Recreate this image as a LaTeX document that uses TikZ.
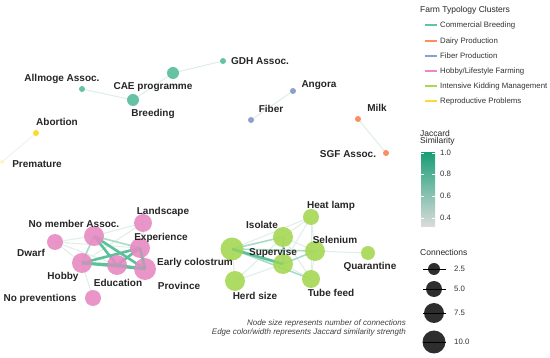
\documentclass[tikz,border=0pt]{standalone}
\usepackage{fontspec}
\setmainfont{Liberation Sans}
\usetikzlibrary{positioning}
\definecolor{cb}{HTML}{66C2A5}
\definecolor{dp}{HTML}{FC8D62}
\definecolor{fp}{HTML}{8DA0CB}
\definecolor{hf}{HTML}{E78AC3}
\definecolor{ik}{HTML}{A6D854}
\definecolor{rp}{HTML}{FFD92F}
\definecolor{jhi}{HTML}{1B9E77}
\definecolor{jlo}{HTML}{DCDCDC}
\definecolor{edgelt}{HTML}{DFEEE7}
\definecolor{edgemd}{HTML}{A8DCC6}
\definecolor{edgehi}{HTML}{5CC19A}
\tikzset{
  x=1pt,y=-1pt,
  vtx/.style={circle,inner sep=0pt,minimum size=#1,draw=none},
  lbl/.style={font=\fontsize{10}{11}\selectfont\bfseries,text=black!85,inner sep=0pt},
  elt/.style={draw=edgelt,line width=1pt},
  emd/.style={draw=edgemd,line width=1.6pt},
  ehi/.style={draw=edgehi,line width=2.6pt},
  legtxt/.style={font=\fontsize{7.8}{9}\selectfont,text=black!80,inner sep=0pt,anchor=west},
  legttl/.style={font=\fontsize{8.5}{9.5}\selectfont,text=black!85,inner sep=0pt,anchor=west,align=left},
  notetxt/.style={font=\fontsize{8}{9}\selectfont\itshape,text=black!75,inner sep=0pt,anchor=east},
}
\begin{document}
\begin{tikzpicture}
\useasboundingbox (0,0) rectangle (550,358);
\fill[white] (0,0) rectangle (550,358);
% ---------- positions ----------
\coordinate (GDHc) at (223,61);
\coordinate (CAEc) at (173,73);
\coordinate (ALLc) at (82,89);
\coordinate (BREc) at (133,100);
\coordinate (ANGc) at (293,91);
\coordinate (FIBc) at (251,120);
\coordinate (MILc) at (358,119);
\coordinate (SGFc) at (386,153);
\coordinate (ABOc) at (36,133);
\coordinate (PREc) at (2,162);
% pink
\coordinate (LANc) at (143,223);
\coordinate (NMAc) at (94,236);
\coordinate (EXPc) at (140,248);
\coordinate (DWAc) at (55,242);
\coordinate (HOBc) at (82,263);
\coordinate (EDUc) at (117,265);
\coordinate (PROc) at (145,269);
\coordinate (NOPc) at (93,298);
% green
\coordinate (HEAc) at (311,217);
\coordinate (ISOc) at (283,237);
\coordinate (SELc) at (315,251);
\coordinate (ECOc) at (232,249);
\coordinate (SUPc) at (283,264);
\coordinate (QUAc) at (368,253);
\coordinate (HERc) at (235,281);
\coordinate (TUBc) at (311,279);

% ---------- edges ----------
\draw[elt] (GDHc) -- (CAEc);
\draw[elt] (CAEc) -- (BREc);
\draw[elt] (ALLc) -- (BREc);
\draw[elt] (ANGc) -- (FIBc);
\draw[elt] (MILc) -- (SGFc);
\draw[elt,draw=edgelt!60] (ABOc) -- (PREc);
% pink edges
\draw[elt] (DWAc) -- (NMAc);
\draw[elt] (DWAc) -- (HOBc);
\draw[elt] (DWAc) -- (EDUc);
\draw[elt] (DWAc) -- (EXPc);
\draw[elt] (LANc) -- (NMAc);
\draw[elt] (LANc) -- (EXPc);
\draw[elt] (LANc) -- (PROc);
\draw[elt] (LANc) -- (HOBc);
\draw[elt] (NOPc) -- (HOBc);
\draw[emd] (NMAc) -- (HOBc);
\draw[emd] (NMAc) -- (EXPc);
\draw[ehi] (NMAc) -- (EDUc);
\draw[ehi] (NMAc) -- (PROc);
\draw[ehi] (HOBc) -- (EDUc);
\draw[ehi] (HOBc) -- (EXPc);
\draw[ehi] (HOBc) -- (PROc);
\draw[ehi] (EDUc) -- (EXPc);
\draw[ehi] (EDUc) -- (PROc);
\draw[ehi] (EXPc) -- (PROc);
% green edges
\draw[elt] (ECOc) -- (HERc);
\draw[elt] (ECOc) -- (HEAc);
\draw[elt] (HERc) -- (SUPc);
\draw[elt] (HERc) -- (ISOc);
\draw[elt] (ISOc) -- (HEAc);
\draw[elt] (SUPc) -- (HEAc);
\draw[elt] (SELc) -- (HEAc);
\draw[elt] (SELc) -- (QUAc);
\draw[elt] (TUBc) -- (HEAc);
\draw[elt] (TUBc) -- (ISOc);
\draw[emd] (ECOc) -- (ISOc);
\draw[emd] (ECOc) -- (SELc);
\draw[emd] (ECOc) -- (TUBc);
\draw[elt] (ISOc) -- (SELc);
\draw[emd] (SUPc) -- (SELc);
\draw[elt] (SUPc) -- (TUBc);
\draw[elt] (SELc) -- (TUBc);
\draw[emd] (ISOc) -- (SUPc);
\draw[ehi] (ECOc) -- (SUPc);

% ---------- vertex discs ----------
\node[vtx=6pt,fill=cb]  (GDH) at (GDHc) {};
\node[vtx=12pt,fill=cb] (CAE) at (CAEc) {};
\node[vtx=6pt,fill=cb]  (ALL) at (ALLc) {};
\node[vtx=12pt,fill=cb] (BRE) at (BREc) {};
\node[vtx=6pt,fill=fp]  (ANG) at (ANGc) {};
\node[vtx=6pt,fill=fp]  (FIB) at (FIBc) {};
\node[vtx=6pt,fill=dp]  (MIL) at (MILc) {};
\node[vtx=6pt,fill=dp]  (SGF) at (SGFc) {};
\node[vtx=6pt,fill=rp]  (ABO) at (ABOc) {};
\node[vtx=4pt,fill=rp!30] (PRE) at (PREc) {};
\begin{scope}[opacity=0.9]
\node[vtx=18pt,fill=hf] (LAN) at (LANc) {};
\node[vtx=20pt,fill=hf] (NMA) at (NMAc) {};
\node[vtx=16pt,fill=hf] (DWA) at (DWAc) {};
\node[vtx=20pt,fill=hf] (EXP) at (EXPc) {};
\node[vtx=20pt,fill=hf] (HOB) at (HOBc) {};
\node[vtx=20pt,fill=hf] (EDU) at (EDUc) {};
\node[vtx=22pt,fill=hf] (PRO) at (PROc) {};
\node[vtx=16pt,fill=hf] (NOP) at (NOPc) {};
\node[vtx=16pt,fill=ik] (HEA) at (HEAc) {};
\node[vtx=20pt,fill=ik] (ISO) at (ISOc) {};
\node[vtx=20pt,fill=ik] (SEL) at (SELc) {};
\node[vtx=23pt,fill=ik] (ECO) at (ECOc) {};
\node[vtx=20pt,fill=ik] (SUP) at (SUPc) {};
\node[vtx=14pt,fill=ik] (QUA) at (QUAc) {};
\node[vtx=20pt,fill=ik] (HER) at (HERc) {};
\node[vtx=18pt,fill=ik] (TUB) at (TUBc) {};
\end{scope}
\begin{scope}[opacity=0.3]
\draw[ehi] (HOBc) -- (EDUc);
\draw[ehi] (EDUc) -- (PROc);
\draw[ehi] (EXPc) -- (PROc);
\draw[ehi] (ECOc) -- (SUPc);
\end{scope}

% ---------- labels ----------
\node[lbl,anchor=west] (tGDH) at (231,61) {GDH Assoc.};
\node[lbl] (tCAE) at (153,87) {CAE programme};
\node[lbl] (tALL) at (62,79) {Allmoge Assoc.};
\node[lbl] (tBRE) at (153,114) {Breeding};
\node[lbl] (tANG) at (319,85) {Angora};
\node[lbl] (tFIB) at (271,109) {Fiber};
\node[lbl] (tMIL) at (377,108) {Milk};
\node[lbl] (tSGF) at (348,154) {SGF Assoc.};
\node[lbl] (tABO) at (57,122) {Abortion};
\node[lbl] (tPRE) at (37,164) {Premature};
\node[lbl] (tLAN) at (163,212) {Landscape};
\node[lbl] (tNMA) at (74,224) {No member Assoc.};
\node[lbl] (tEXP) at (161,238) {Experience};
\node[lbl] (tDWA) at (31,253) {Dwarf};
\node[lbl] (tHOB) at (63,277) {Hobby};
\node[lbl] (tEDU) at (118,283) {Education};
\node[lbl] (tECO) at (195,263) {Early colostrum};
\node[lbl] (tPRO) at (179,286) {Province};
\node[lbl] (tNOP) at (40,299) {No preventions};
\node[lbl] (tHEA) at (331,206) {Heat lamp};
\node[lbl] (tISO) at (262,225) {Isolate};
\node[lbl] (tSEL) at (335,240) {Selenium};
\node[lbl] (tSUP) at (273,253) {Supervise};
\node[lbl] (tQUA) at (370,267) {Quarantine};
\node[lbl] (tHER) at (255,296) {Herd size};
\node[lbl] (tTUB) at (331,293) {Tube feed};

% ---------- note ----------
\node[notetxt] (note1) at (406,323) {Node size represents number of connections};
\node[notetxt] (note2) at (406,332) {Edge color/width represents Jaccard similarity strength};

% ---------- legend: clusters ----------
\node[legttl] (lt) at (420,10) {Farm Typology Clusters};
\foreach \c/\t/\y [count=\i] in {cb/Commercial Breeding/25, dp/Dairy Production/41, fp/Fiber Production/56, hf/Hobby\slash Lifestyle Farming/71, ik/Intensive Kidding Management/86, rp/Reproductive Problems/101}{
  \coordinate (la\i) at (425,\y);
  \coordinate (lb\i) at (437,\y);
  \draw[\c,line width=1.1pt] (la\i) -- (lb\i);
  \fill[\c] (431,\y) circle (1.1pt);
  \node[legtxt] (ln\i) at (440,\y) {\t};
}

% ---------- legend: Jaccard ----------
\node[legttl] (jt) at (420,138) {Jaccard\\[-2pt]Similarity};
\shade[top color=jhi,bottom color=jlo] (421,153) rectangle (435,227);
\foreach \v/\y in {1.0/153,0.8/174,0.6/196,0.4/218}{
  \draw[white,line width=0.4pt] (421,\y) -- (424,\y);
  \draw[white,line width=0.4pt] (432,\y) -- (435,\y);
  \node[legtxt] at (440,\y) {\v};
}

% ---------- legend: connections ----------
\node[legttl] (ct) at (420,252) {Connections};
\foreach \r/\v/\y in {6/2.5/269, 8/5.0/289, 10/7.5/313, 11.5/10.0/342}{
  \fill[black!82] (434,\y) circle (\r pt);
  \draw[black,line width=0.6pt] (423,\y) -- (446,\y);
  \node[legtxt] at (454,\y) {\v};
}
\end{tikzpicture}
\end{document}
